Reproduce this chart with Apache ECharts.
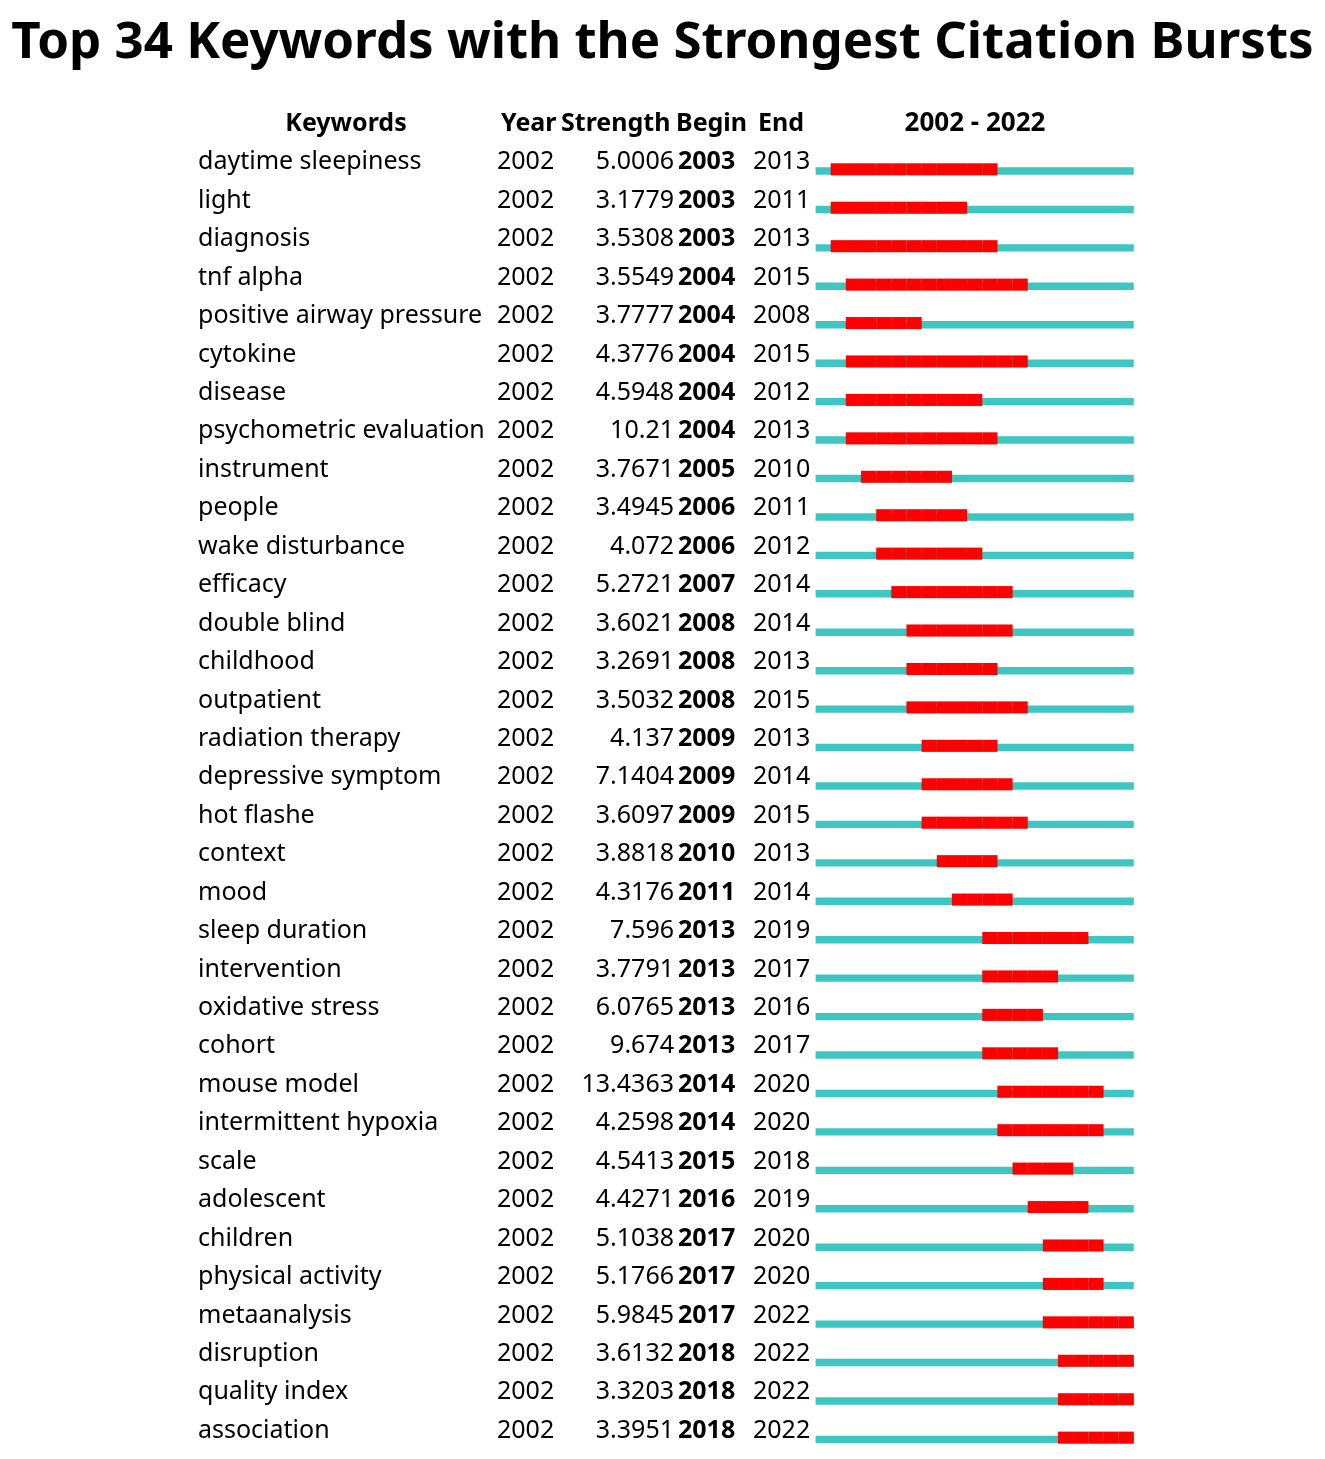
<!DOCTYPE html>
<html>
<head>
<meta charset="utf-8">
<script src="https://cdn.jsdelivr.net/npm/echarts@6/dist/echarts.min.js"></script>
<style>html,body{margin:0;padding:0;background:#fff;}#main{width:1325px;height:1459px;}</style>
</head>
<body>
<div id="main"></div>
<script>
const keywords = ["daytime sleepiness","light","diagnosis","tnf alpha","positive airway pressure","cytokine","disease","psychometric evaluation","instrument","people","wake disturbance","efficacy","double blind","childhood","outpatient","radiation therapy","depressive symptom","hot flashe","context","mood","sleep duration","intervention","oxidative stress","cohort","mouse model","intermittent hypoxia","scale","adolescent","children","physical activity","metaanalysis","disruption","quality index","association"];
const years = [2002,2002,2002,2002,2002,2002,2002,2002,2002,2002,2002,2002,2002,2002,2002,2002,2002,2002,2002,2002,2002,2002,2002,2002,2002,2002,2002,2002,2002,2002,2002,2002,2002,2002];
const strengths = ["5.0006","3.1779","3.5308","3.5549","3.7777","4.3776","4.5948","10.21","3.7671","3.4945","4.072","5.2721","3.6021","3.2691","3.5032","4.137","7.1404","3.6097","3.8818","4.3176","7.596","3.7791","6.0765","9.674","13.4363","4.2598","4.5413","4.4271","5.1038","5.1766","5.9845","3.6132","3.3203","3.3951"];
const begins = [2003,2003,2003,2004,2004,2004,2004,2004,2005,2006,2006,2007,2008,2008,2008,2009,2009,2009,2010,2011,2013,2013,2013,2013,2014,2014,2015,2016,2017,2017,2017,2018,2018,2018];
const ends = [2013,2011,2013,2015,2008,2015,2012,2013,2010,2011,2012,2014,2014,2013,2015,2013,2014,2015,2013,2014,2019,2017,2016,2017,2020,2020,2018,2019,2020,2020,2022,2022,2022,2022];
const startYear = 2002, endYear = 2022;
const headers = ["Keywords","Year","Strength","Begin","End","2002 - 2022"];

const FONT = '"Noto Sans", "DejaVu Sans", sans-serif';
const FS = 25;
const CYAN = '#3ec6c3', RED = '#ff0000';

const chart = echarts.init(document.getElementById('main'), null, {renderer:'canvas'});

const barData = keywords.map((k,i)=>[begins[i], ends[i], i]);
const textData = keywords.map((k,i)=>[startYear, i]);

function txt(text, x, y, align, bold){
  return {type:'text', style:{text:String(text), x:x, y:y, align:align, textAlign:align, verticalAlign:'middle', textVerticalAlign:'middle', fill:'#000', font:(bold?'bold ':'')+FS+'px '+FONT}};
}
function head(text, x, align){
  return {type:'text', x:x, y:124, style:{text:text, align:align, textAlign:align, verticalAlign:'middle', textVerticalAlign:'middle', font:'bold '+FS+'px '+FONT, fill:'#000'}};
}

chart.setOption({
  backgroundColor:'#fff',
  animation:false,
  title:{text:'Top 34 Keywords with the Strongest Citation Bursts', left:'center', top:13,
    textStyle:{fontSize:51, fontWeight:'bold', fontFamily:FONT, color:'#000'}},
  grid:{left:815.6, right:191.2, top:150.1, bottom:2.1, containLabel:false},
  xAxis:{type:'value', min:startYear, max:endYear+1, show:false},
  yAxis:{type:'category', data:keywords, inverse:true, show:false},
  graphic:[
    head(headers[0], 346, 'center'),
    head(headers[1], 501, 'left'),
    head(headers[2], 561, 'left'),
    head(headers[3], 676, 'left'),
    head(headers[4], 758, 'left'),
    {type:'text', x:975, y:124, style:{text:headers[5], align:'center', textAlign:'center', verticalAlign:'middle', textVerticalAlign:'middle', font:'bold 26px '+FONT, fill:'#000'}}
  ],
  series:[
    {
      type:'custom', clip:false, data:textData,
      encode:{x:0, y:1},
      renderItem:function(params, api){
        const i = api.value(1);
        const c = api.coord([startYear, i]);
        const y = c[1] - 7;
        return {type:'group', children:[
          txt(keywords[i], 198, y, 'left', false),
          txt(years[i], 497, y, 'left', false),
          txt(strengths[i], 674, y, 'right', false),
          txt(begins[i], 678, y, 'left', true),
          txt(ends[i], 753, y, 'left', false)
        ]};
      }
    },
    {
      type:'custom', clip:false, data:barData,
      encode:{x:[0,1], y:2},
      renderItem:function(params, api){
        const b = api.value(0), e = api.value(1), i = api.value(2);
        const s0 = api.coord([startYear, i]);
        const s1 = api.coord([endYear+1, i]);
        const cy = s0[1];
        const children = [{type:'rect', shape:{x:s0[0], y:cy-2, width:s1[0]-s0[0], height:7.4}, style:{fill:CYAN}}];
        for(let yr=b; yr<=e; yr++){
          const p0 = api.coord([yr, i]), p1 = api.coord([yr+1, i]);
          children.push({type:'rect', shape:{x:p0[0], y:cy-6, width:p1[0]-p0[0], height:12}, style:{fill:RED, stroke:'rgba(190,30,30,0.22)', lineWidth:0.5}});
        }
        return {type:'group', children:children};
      }
    }
  ]
});
</script>
</body>
</html>
